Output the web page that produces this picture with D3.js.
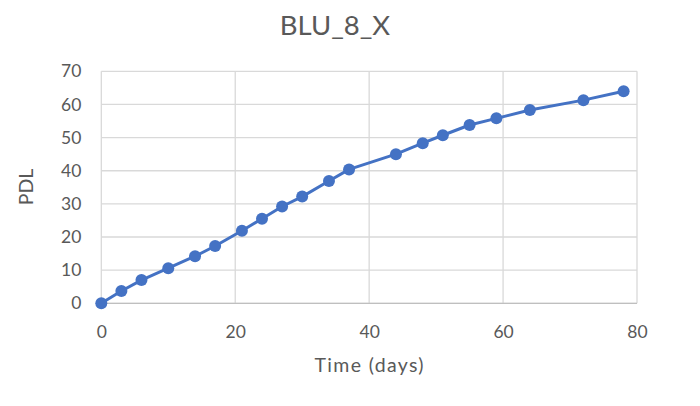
<!DOCTYPE html>
<html>
<head>
<meta charset="utf-8">
<script src="https://cdn.jsdelivr.net/npm/d3@7"></script>
<style>
  html, body { margin: 0; padding: 0; background: #fff; }
  svg { display: block; }
  text { font-family: Lato, "Liberation Sans", sans-serif; fill: #595959; }
</style>
</head>
<body>
<svg id="chart" width="700" height="406"></svg>
<script>
const title = "BLU_8_X";
const xLabel = "Time (days)";
const yLabel = "PDL";
const days = [0, 3, 6, 10, 14, 17, 21, 24, 27, 30, 34, 37, 44, 48, 51, 55, 59, 64, 72, 78];
const pdl  = [0, 3.7, 7.0, 10.6, 14.2, 17.3, 21.9, 25.5, 29.2, 32.2, 36.9, 40.4, 45.0, 48.3, 50.7, 53.8, 55.8, 58.3, 61.3, 64.0];
const xTicks = [0, 20, 40, 60, 80];
const yTicks = [0, 10, 20, 30, 40, 50, 60, 70];

const svg = d3.select("#chart");
const pLeft = 101.3, pRight = 637, pTop = 71.3, pBottom = 303.3;

const x = d3.scaleLinear().domain([0, 80]).range([pLeft, pRight]);
const y = d3.scaleLinear().domain([0, 70]).range([pBottom, pTop]);

// gridlines
svg.append("g").selectAll("line").data(yTicks).join("line")
  .attr("x1", pLeft).attr("x2", pRight)
  .attr("y1", d => y(d)).attr("y2", d => y(d))
  .attr("stroke", "#d9d9d9").attr("stroke-width", 1.3);
svg.append("g").selectAll("line").data(xTicks).join("line")
  .attr("x1", d => x(d)).attr("x2", d => x(d))
  .attr("y1", pTop).attr("y2", pBottom)
  .attr("stroke", "#d9d9d9").attr("stroke-width", 1.3);
// bottom axis line
svg.append("line")
  .attr("x1", pLeft).attr("x2", pRight).attr("y1", pBottom).attr("y2", pBottom)
  .attr("stroke", "#bfbfbf").attr("stroke-width", 1.3);

// axes (labels only)
const xAxis = svg.append("g").attr("transform", `translate(0,${pBottom})`)
  .call(d3.axisBottom(x).tickValues(xTicks).tickSize(0).tickPadding(22).tickFormat(d3.format("d")));
xAxis.select(".domain").remove();
xAxis.selectAll("text").style("font-size", "17.5px").attr("fill", "#595959").style("font-family", "Lato, sans-serif");

const yAxis = svg.append("g").attr("transform", `translate(${pLeft},0)`)
  .call(d3.axisLeft(y).tickValues(yTicks).tickSize(0).tickPadding(20).tickFormat(d3.format("d")));
yAxis.select(".domain").remove();
yAxis.selectAll("text").style("font-size", "17.5px").attr("fill", "#595959").style("font-family", "Lato, sans-serif");

// line
const pts = days.map((d, i) => [d, pdl[i]]);
svg.append("path").datum(pts)
  .attr("fill", "none").attr("stroke", "#4472C4").attr("stroke-width", 3)
  .attr("stroke-linejoin", "round")
  .attr("d", d3.line().x(d => x(d[0])).y(d => y(d[1])));
svg.append("g").selectAll("circle").data(pts).join("circle")
  .attr("cx", d => x(d[0])).attr("cy", d => y(d[1])).attr("r", 6)
  .attr("fill", "#4472C4");

// title
svg.append("text").attr("x", 335).attr("y", 35).attr("text-anchor", "middle")
  .style("font-size", "27.5px").text(title);
// x label
svg.append("text").attr("x", 369).attr("y", 372).attr("text-anchor", "middle")
  .style("font-size", "19.5px").attr("textLength", 109).attr("lengthAdjust", "spacing").text(xLabel);
// y label
svg.append("text").attr("transform", "translate(32.5,187) rotate(-90)").attr("text-anchor", "middle")
  .style("font-size", "19.5px").text(yLabel);
</script>
</body>
</html>
